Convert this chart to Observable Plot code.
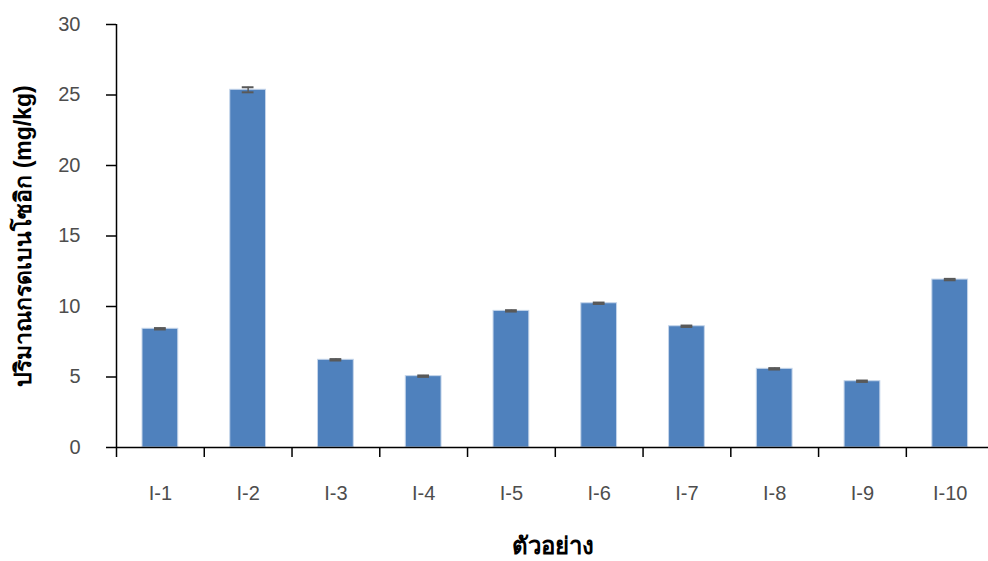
<!DOCTYPE html>
<html><head><meta charset="utf-8">
<script src="https://cdn.jsdelivr.net/npm/d3@7"></script>
<script src="https://cdn.jsdelivr.net/npm/@observablehq/plot@0.6"></script>
<style>body{margin:0;background:#fff}</style>
</head><body><div id="chart"></div>
<script>
const categories = ["I-1","I-2","I-3","I-4","I-5","I-6","I-7","I-8","I-9","I-10"];
const values = [8.42, 25.37, 6.22, 5.06, 9.69, 10.23, 8.60, 5.58, 4.70, 11.91];
const errors = [0.05, 0.18, 0.05, 0.05, 0.05, 0.05, 0.05, 0.05, 0.05, 0.05];
const yTicks = [0, 5, 10, 15, 20, 25, 30];
const yTitle = "ปริมาณกรดเบนโซอิก (mg/kg)";
const xTitle = "ตัวอย่าง";

const data = categories.map((c, i) => ({sample: c, value: values[i], err: errors[i]}));
const W = 988, H = 561, mL = 116, mT = 24, mB = 114;
const xRange = [116, 993.6];
const bw = (xRange[1] - xRange[0]) / categories.length;
const frameH = H - mT - mB;
const font = "'Liberation Sans', 'DejaVu Sans', Arial, sans-serif";

const chart = Plot.plot({
  width: W, height: H,
  marginLeft: mL, marginTop: mT, marginBottom: mB, marginRight: 0,
  style: {fontFamily: font, fontSize: "20px", background: "white", overflow: "visible"},
  x: {domain: categories, range: xRange, padding: 0, round: false},
  y: {domain: [0, 30]},
  marks: [
    Plot.barY(data, {x: "sample", y: "value", fill: "#4F81BD", stroke: "#c5d5ea", strokeWidth: 1, insetLeft: 26, insetRight: 26}),
    Plot.ruleX(data, {x: "sample", y1: d => d.value - d.err, y2: d => d.value + d.err, stroke: "#595959", strokeWidth: 1.5}),
    Plot.tickY(data, {x: "sample", y: d => d.value + d.err, stroke: "#595959", strokeWidth: 2, insetLeft: 38, insetRight: 38}),
    Plot.tickY(data, {x: "sample", y: d => d.value - d.err, stroke: "#595959", strokeWidth: 2, insetLeft: 38, insetRight: 38}),
    Plot.ruleY([0], {stroke: "black", strokeWidth: 1.5}),
    Plot.ruleX([categories[0]], {stroke: "black", strokeWidth: 1.5, dx: -bw / 2, insetBottom: -10}),
    Plot.ruleX(categories.slice(1), {stroke: "black", strokeWidth: 1.5, dx: -bw / 2, insetTop: frameH, insetBottom: -10}),
    Plot.axisY({ticks: yTicks, tickSize: 10, tickPadding: 26, stroke: "black", strokeWidth: 1.5, fill: "#4d4d4d", fontSize: 20, label: null}),
    Plot.axisX({tickSize: 0, tickPadding: 38, fill: "#4d4d4d", fontSize: 20, label: null}),
    Plot.text([yTitle], {frameAnchor: "left", textAnchor: "middle", dx: -93, rotate: -90, fontWeight: "bold", fontSize: 23, fill: "black"}),
    Plot.text([xTitle], {frameAnchor: "bottom", textAnchor: "middle", dy: 106, fontWeight: "bold", fontSize: 24, fill: "black"})
  ]
});
document.getElementById("chart").appendChild(chart);
</script>
</body></html>
